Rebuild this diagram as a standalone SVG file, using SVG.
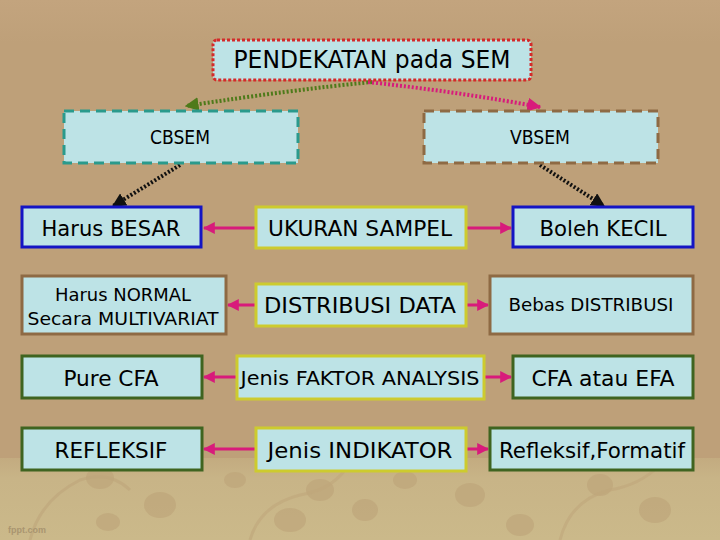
<svg xmlns="http://www.w3.org/2000/svg" width="720" height="540" viewBox="0 0 720 540">
<defs>
<style>
.box{fill:#BDE3E6;stroke-width:3}
.t{font-family:"DejaVu Sans Condensed","DejaVu Sans",Verdana,sans-serif;fill:#000;text-anchor:middle;dominant-baseline:central}
.conn{fill:none;stroke:#D81B7B;stroke-width:3}
.dot{fill:none;stroke-width:4;stroke-dasharray:2 2}
</style>
<marker id="mag" viewBox="0 0 10 10" refX="9" refY="5" markerWidth="4" markerHeight="4" orient="auto"><path d="M0,0 L10,5 L0,10 z" fill="#D81B7B"/></marker>
<marker id="grn" viewBox="0 0 10 10" refX="9" refY="5" markerWidth="3.5" markerHeight="3.5" orient="auto"><path d="M0,0 L10,5 L0,10 z" fill="#4E7A1A"/></marker>
<marker id="blk" viewBox="0 0 10 10" refX="9" refY="5" markerWidth="3.5" markerHeight="3.5" orient="auto"><path d="M0,0 L10,5 L0,10 z" fill="#111"/></marker>
<marker id="pnk" viewBox="0 0 10 10" refX="9" refY="5" markerWidth="3.5" markerHeight="3.5" orient="auto"><path d="M0,0 L10,5 L0,10 z" fill="#D81B7B"/></marker>
<linearGradient id="bg" x1="0" y1="0" x2="0" y2="1">
<stop offset="0" stop-color="#C3A47E"/><stop offset="0.08" stop-color="#BEA079"/><stop offset="1" stop-color="#BEA079"/>
</linearGradient>
<linearGradient id="bg2" x1="0" y1="0" x2="0" y2="1">
<stop offset="0" stop-color="#C3AB80"/><stop offset="0.25" stop-color="#C8B487"/><stop offset="1" stop-color="#CBB98A"/>
</linearGradient>
</defs>
<rect width="720" height="540" fill="url(#bg)"/>
<rect y="458" width="720" height="82" fill="url(#bg2)"/>
<g fill="#BFA67B" opacity="0.7">
<ellipse cx="100" cy="478" rx="14" ry="11"/><ellipse cx="160" cy="505" rx="16" ry="13"/><ellipse cx="108" cy="522" rx="12" ry="9"/>
<ellipse cx="320" cy="490" rx="14" ry="11"/><ellipse cx="290" cy="520" rx="16" ry="12"/><ellipse cx="365" cy="510" rx="13" ry="11"/>
<ellipse cx="470" cy="495" rx="15" ry="12"/><ellipse cx="520" cy="525" rx="14" ry="11"/><ellipse cx="600" cy="485" rx="13" ry="11"/>
<ellipse cx="655" cy="510" rx="16" ry="13"/><ellipse cx="235" cy="480" rx="11" ry="8"/><ellipse cx="405" cy="480" rx="12" ry="9"/>
</g>
<g fill="none" stroke="#BFA67B" stroke-width="3" opacity="0.6">
<path d="M30,540 Q40,500 80,480 Q110,470 130,490"/>
<path d="M250,540 Q260,505 300,495 Q330,490 345,470"/>
<path d="M560,540 Q570,500 610,490 Q640,485 660,465"/>
</g>
<text x="8" y="533" font-family="'Liberation Sans',sans-serif" font-size="9" font-weight="bold" fill="#A99570">fppt.com</text>

<g id="connectors">
<path class="dot" d="M372,82 Q290,90 186,106" stroke="#4E7A1A" marker-end="url(#grn)"/>
<path class="dot" d="M368,82 Q460,92 540,107" stroke="#D81B7B" marker-end="url(#pnk)"/>
<path class="dot" d="M180,165 L113,206" stroke="#111" marker-end="url(#blk)"/>
<path class="dot" d="M540,165 L604,206" stroke="#111" marker-end="url(#blk)"/>
<path class="conn" d="M255,228 L204,228" marker-end="url(#mag)"/>
<path class="conn" d="M466,228 L511,228" marker-end="url(#mag)"/>
<path class="conn" d="M255,305 L228,305" marker-end="url(#mag)"/>
<path class="conn" d="M466,305 L488,305" marker-end="url(#mag)"/>
<path class="conn" d="M236,377 L204,377" marker-end="url(#mag)"/>
<path class="conn" d="M484,377 L511,377" marker-end="url(#mag)"/>
<path class="conn" d="M255,449 L204,449" marker-end="url(#mag)"/>
<path class="conn" d="M466,449 L488,449" marker-end="url(#mag)"/>
</g>

<g id="top">
<rect class="box" x="213" y="40" width="318" height="40" rx="4" stroke="#D42A2A" stroke-width="4" stroke-dasharray="3 2"/>
<text class="t" x="372" y="60" font-size="24" textLength="277" lengthAdjust="spacingAndGlyphs">PENDEKATAN pada SEM</text>
</g>
<g id="cbsem">
<rect class="box" x="64" y="111" width="234" height="52" stroke="#2A9A8C" stroke-dasharray="10 6"/>
<text class="t" x="180" y="137" font-size="19" textLength="60" lengthAdjust="spacingAndGlyphs">CBSEM</text>
</g>
<g id="vbsem">
<rect class="box" x="424" y="111" width="234" height="52" stroke="#8E6A44" stroke-dasharray="10 6"/>
<text class="t" x="540" y="137" font-size="19" textLength="60" lengthAdjust="spacingAndGlyphs">VBSEM</text>
</g>

<g id="harus-besar">
<rect class="box" x="22" y="207" width="179" height="40" stroke="#1414C4"/>
<text class="t" x="111" y="228" font-size="22" textLength="139" lengthAdjust="spacingAndGlyphs">Harus BESAR</text>
</g>
<g id="ukuran-sampel">
<rect class="box" x="256" y="207" width="210" height="41" stroke="#CDCB2E"/>
<text class="t" x="360" y="228" font-size="22" textLength="184" lengthAdjust="spacingAndGlyphs">UKURAN SAMPEL</text>
</g>
<g id="boleh-kecil">
<rect class="box" x="513" y="207" width="180" height="40" stroke="#1414C4"/>
<text class="t" x="603" y="228" font-size="22" textLength="127" lengthAdjust="spacingAndGlyphs">Boleh KECIL</text>
</g>

<g id="harus-normal">
<rect class="box" x="22" y="276" width="204" height="58" stroke="#8E6A44"/>
<text class="t" x="123" y="295" font-size="17" textLength="136" lengthAdjust="spacingAndGlyphs">Harus NORMAL</text>
<text class="t" x="123" y="319" font-size="17" textLength="191" lengthAdjust="spacingAndGlyphs">Secara MULTIVARIAT</text>
</g>
<g id="distribusi-data">
<rect class="box" x="256" y="284" width="210" height="42" stroke="#CDCB2E"/>
<text class="t" x="360" y="305" font-size="22" textLength="192" lengthAdjust="spacingAndGlyphs">DISTRIBUSI DATA</text>
</g>
<g id="bebas-distribusi">
<rect class="box" x="490" y="276" width="203" height="58" stroke="#8E6A44"/>
<text class="t" x="591" y="305" font-size="17" textLength="165" lengthAdjust="spacingAndGlyphs">Bebas DISTRIBUSI</text>
</g>

<g id="pure-cfa">
<rect class="box" x="22" y="356" width="180" height="42" stroke="#3F6420"/>
<text class="t" x="111" y="378" font-size="22" textLength="95" lengthAdjust="spacingAndGlyphs">Pure CFA</text>
</g>
<g id="jenis-faktor">
<rect class="box" x="237" y="356" width="247" height="43" stroke="#CDCB2E"/>
<text class="t" x="360" y="378" font-size="20" textLength="239" lengthAdjust="spacingAndGlyphs">Jenis FAKTOR ANALYSIS</text>
</g>
<g id="cfa-efa">
<rect class="box" x="513" y="356" width="180" height="42" stroke="#3F6420"/>
<text class="t" x="603" y="378" font-size="22" textLength="143" lengthAdjust="spacingAndGlyphs">CFA atau EFA</text>
</g>

<g id="refleksif">
<rect class="box" x="22" y="428" width="180" height="42" stroke="#3F6420"/>
<text class="t" x="111" y="450" font-size="22" textLength="113" lengthAdjust="spacingAndGlyphs">REFLEKSIF</text>
</g>
<g id="jenis-indikator">
<rect class="box" x="256" y="428" width="210" height="43" stroke="#CDCB2E"/>
<text class="t" x="360" y="450" font-size="22" textLength="185" lengthAdjust="spacingAndGlyphs">Jenis INDIKATOR</text>
</g>
<g id="refleksif-formatif">
<rect class="box" x="490" y="428" width="203" height="42" stroke="#3F6420"/>
<text class="t" x="592" y="450" font-size="22" textLength="186" lengthAdjust="spacingAndGlyphs">Refleksif,Formatif</text>
</g>
</svg>
